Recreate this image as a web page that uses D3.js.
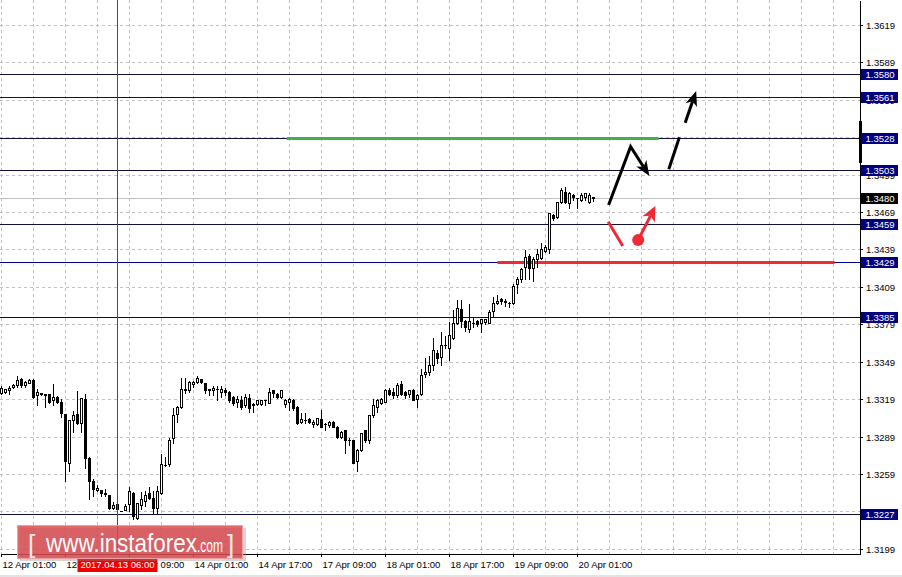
<!DOCTYPE html>
<html><head><meta charset="utf-8">
<script src="https://cdn.jsdelivr.net/npm/d3@7"></script>
<style>
html,body{margin:0;padding:0;background:#fff;overflow:hidden}
svg{display:block}
text{font-family:"Liberation Sans",Arial,sans-serif}
</style></head><body>
<svg id="c" width="902" height="577"></svg>
<script>
// ---------- data ----------
const timeLabels = ["12 Apr 01:00","12 Apr 17:00","13 Apr 09:00","14 Apr 01:00","14 Apr 17:00","17 Apr 09:00","18 Apr 01:00","18 Apr 17:00","19 Apr 09:00","20 Apr 01:00"];
const timeLabelBars = [0,16,32,48,64,80,96,112,128,144];
const priceTickLabels = ["1.3619","1.3589","1.3559","1.3529","1.3499","1.3469","1.3439","1.3409","1.3379","1.3349","1.3319","1.3289","1.3259","1.3229","1.3199"];
const levelValues = [1.3580,1.3561,1.3528,1.3503,1.3459,1.3429,1.3385,1.3227];
const levelLabels = ["1.3580","1.3561","1.3528","1.3503","1.3459","1.3429","1.3385","1.3227"];
const levelColors = ["#10103c","#10103c","#10103c","#10103c","#10103c","#000090","#000090","#10103c"];
const lastPrice = 1.3480;
const cursorBar = 29, cursorLabel = "2017.04.13 06:00";

const open = [1.3324,1.3325,1.3326,1.3329,1.3330,1.3335,1.3330,1.3332,1.3334,1.3322,
1.3323,1.3323,1.3323,1.3318,1.3321,1.3317,1.3307,1.3268,1.3302,1.3307,
1.3300,1.3319,1.3272,1.3253,1.3246,1.3246,1.3244,1.3242,1.3232,1.3235,
1.3229,1.3230,1.3235,1.3244,1.3224,1.3234,1.3237,1.3244,1.3240,1.3232,
1.3244,1.3266,1.3267,1.3288,1.3307,1.3313,1.3327,1.3326,1.3331,1.3333,
1.3335,1.3332,1.3327,1.3326,1.3327,1.3325,1.3326,1.3325,1.3321,1.3317,
1.3318,1.3314,1.3320,1.3315,1.3315,1.3315,1.3318,1.3316,1.3326,1.3323,
1.3321,1.3315,1.3317,1.3318,1.3313,1.3301,1.3302,1.3303,1.3299,1.3299,
1.3303,1.3299,1.3298,1.3301,1.3297,1.3289,1.3294,1.3286,1.3286,1.3269,
1.3278,1.3294,1.3286,1.3306,1.3313,1.3316,1.3317,1.3326,1.3325,1.3322,
1.3331,1.3325,1.3323,1.3326,1.3319,1.3323,1.3339,1.3341,1.3346,1.3356,
1.3353,1.3362,1.3360,1.3368,1.3380,1.3391,1.3382,1.3375,1.3380,1.3382,
1.3380,1.3381,1.3380,1.3390,1.3396,1.3399,1.3397,1.3396,1.3396,1.3411,
1.3415,1.3425,1.3434,1.3424,1.3431,1.3432,1.3438,1.3439,1.3467,1.3465,
1.3477,1.3485,1.3476,1.3483,1.3480,1.3479,1.3481,1.3477,1.3481];
const high = [1.3330,1.3328,1.3330,1.3332,1.3338,1.3337,1.3334,1.3336,1.3336,1.3328,
1.3325,1.3324,1.3324,1.3332,1.3322,1.3320,1.3308,1.3303,1.3310,1.3326,
1.3321,1.3324,1.3273,1.3256,1.3251,1.3247,1.3248,1.3243,1.3237,1.3236,
1.3230,1.3236,1.3249,1.3245,1.3236,1.3245,1.3246,1.3249,1.3246,1.3250,
1.3276,1.3273,1.3289,1.3313,1.3314,1.3337,1.3337,1.3334,1.3334,1.3338,
1.3336,1.3333,1.3327,1.3330,1.3330,1.3330,1.3329,1.3326,1.3322,1.3322,
1.3322,1.3324,1.3324,1.3317,1.3319,1.3319,1.3319,1.3329,1.3326,1.3325,
1.3326,1.3320,1.3321,1.3320,1.3314,1.3309,1.3309,1.3305,1.3303,1.3305,
1.3311,1.3301,1.3302,1.3302,1.3298,1.3294,1.3295,1.3289,1.3287,1.3280,
1.3293,1.3295,1.3307,1.3320,1.3320,1.3321,1.3328,1.3329,1.3329,1.3333,
1.3334,1.3326,1.3326,1.3328,1.3324,1.3344,1.3353,1.3354,1.3369,1.3359,
1.3374,1.3370,1.3382,1.3391,1.3399,1.3399,1.3383,1.3396,1.3386,1.3383,
1.3384,1.3384,1.3391,1.3402,1.3403,1.3401,1.3400,1.3398,1.3412,1.3418,
1.3425,1.3439,1.3436,1.3434,1.3440,1.3445,1.3443,1.3469,1.3468,1.3477,
1.3489,1.3490,1.3486,1.3484,1.3481,1.3485,1.3485,1.3485,1.3482];
const low = [1.3323,1.3324,1.3323,1.3328,1.3329,1.3329,1.3329,1.3332,1.3320,1.3314,
1.3322,1.3313,1.3316,1.3314,1.3316,1.3305,1.3253,1.3261,1.3293,1.3299,
1.3293,1.3264,1.3239,1.3241,1.3245,1.3241,1.3241,1.3231,1.3231,1.3230,
1.3229,1.3230,1.3229,1.3223,1.3223,1.3231,1.3233,1.3239,1.3228,1.3227,
1.3243,1.3265,1.3265,1.3284,1.3301,1.3312,1.3324,1.3325,1.3329,1.3332,
1.3332,1.3324,1.3322,1.3322,1.3318,1.3321,1.3322,1.3317,1.3314,1.3313,
1.3311,1.3313,1.3309,1.3309,1.3314,1.3314,1.3314,1.3316,1.3321,1.3320,
1.3320,1.3313,1.3310,1.3310,1.3299,1.3300,1.3300,1.3300,1.3297,1.3298,
1.3297,1.3294,1.3297,1.3297,1.3288,1.3288,1.3276,1.3282,1.3268,1.3261,
1.3277,1.3285,1.3284,1.3305,1.3309,1.3315,1.3317,1.3322,1.3320,1.3321,
1.3322,1.3320,1.3321,1.3318,1.3313,1.3322,1.3337,1.3338,1.3342,1.3348,
1.3346,1.3360,1.3350,1.3367,1.3379,1.3377,1.3374,1.3373,1.3377,1.3378,
1.3373,1.3379,1.3380,1.3386,1.3395,1.3395,1.3394,1.3393,1.3395,1.3404,
1.3413,1.3415,1.3415,1.3414,1.3425,1.3431,1.3437,1.3436,1.3463,1.3464,
1.3476,1.3476,1.3472,1.3479,1.3472,1.3478,1.3479,1.3476,1.3478];
const close = [1.3328,1.3327,1.3328,1.3330,1.3334,1.3330,1.3333,1.3334,1.3321,1.3325,
1.3324,1.3322,1.3317,1.3321,1.3317,1.3308,1.3269,1.3302,1.3306,1.3300,
1.3320,1.3272,1.3253,1.3247,1.3248,1.3244,1.3243,1.3232,1.3234,1.3231,
1.3229,1.3233,1.3245,1.3225,1.3236,1.3239,1.3242,1.3240,1.3232,1.3245,
1.3267,1.3266,1.3286,1.3306,1.3313,1.3327,1.3326,1.3333,1.3333,1.3336,
1.3333,1.3326,1.3326,1.3328,1.3327,1.3327,1.3325,1.3318,1.3316,1.3319,
1.3313,1.3321,1.3312,1.3314,1.3318,1.3318,1.3318,1.3325,1.3324,1.3321,
1.3326,1.3318,1.3319,1.3312,1.3300,1.3303,1.3302,1.3301,1.3301,1.3304,
1.3297,1.3299,1.3301,1.3297,1.3289,1.3293,1.3286,1.3286,1.3268,1.3278,
1.3292,1.3286,1.3306,1.3314,1.3318,1.3319,1.3326,1.3323,1.3322,1.3330,
1.3323,1.3322,1.3326,1.3318,1.3322,1.3338,1.3341,1.3346,1.3358,1.3352,
1.3362,1.3362,1.3370,1.3380,1.3392,1.3382,1.3377,1.3382,1.3380,1.3379,
1.3383,1.3383,1.3389,1.3396,1.3398,1.3398,1.3398,1.3396,1.3410,1.3415,
1.3423,1.3433,1.3424,1.3431,1.3435,1.3439,1.3441,1.3468,1.3464,1.3477,
1.3487,1.3477,1.3484,1.3481,1.3480,1.3483,1.3484,1.3483,1.3480];

// annotation objects (bar index, price)
const greenLine = {from:71.4, to:164.4, price:1.3528};
const redLine = {from:124.1, to:208.4, price:1.3429};
const blackZig = [[151.9,1.34746],[157.4,1.35214],[162.1,1.34979]];
const blackSeg = [[166.95,1.35033],[169.6,1.35289]];
const blackArrow = [[171.05,1.35406],[173.8,1.35661]];
const redSeg = [[151.8,1.34612],[155.45,1.34418]];
const redArrow = [[159.3,1.34466],[163.6,1.34738]];

// ---------- scales ----------
const PW = 860, PH = 554;
const x = d3.scaleLinear().domain([-0.25, 214.75]).range([0, PW]).interpolate(d3.interpolateRound);
const y = d3.scaleLinear().domain([1.31948, 1.36390]).range([PH, 0]).interpolate(d3.interpolateRound);
const fx = d3.scaleLinear().domain([-0.25, 214.75]).range([0, PW]);
const fy = d3.scaleLinear().domain([1.31948, 1.36390]).range([PH, 0]);

const svg = d3.select("#c");
svg.append("rect").attr("width",902).attr("height",577).attr("fill","#fff");

// grid
const grid = svg.append("g").attr("shape-rendering","crispEdges").attr("stroke","#c0c0c0").attr("stroke-dasharray","3,3");
priceTickLabels.forEach(t=>{
  grid.append("line").attr("x1",0).attr("x2",PW).attr("y1",y(+t)+0.5).attr("y2",y(+t)+0.5);
});
d3.range(0, 215, 8).forEach(b=>{
  grid.append("line").attr("x1",x(b)+0.5).attr("x2",x(b)+0.5).attr("y1",0).attr("y2",PH);
});

// last price line
svg.append("line").attr("x1",0).attr("x2",PW).attr("y1",y(lastPrice)+0.5).attr("y2",y(lastPrice)+0.5)
  .attr("stroke","#c0c0c0").attr("shape-rendering","crispEdges");

// level lines
const lv = svg.append("g").attr("shape-rendering","crispEdges");
levelValues.forEach((v,i)=>{
  lv.append("line").attr("x1",0).attr("x2",PW).attr("y1",y(v)+0.5).attr("y2",y(v)+0.5).attr("stroke",levelColors[i]);
});

// green / red horizontal marker lines
svg.append("line").attr("x1",fx(greenLine.from)).attr("x2",fx(greenLine.to))
  .attr("y1",y(greenLine.price)+0.5).attr("y2",y(greenLine.price)+0.5)
  .attr("stroke","#3cb44b").attr("stroke-width",3);
svg.append("line").attr("x1",fx(redLine.from)).attr("x2",fx(redLine.to))
  .attr("y1",y(redLine.price)+0.5).attr("y2",y(redLine.price)+0.5)
  .attr("stroke","#ee2a35").attr("stroke-width",3);

// candles
const cg = svg.append("g").attr("shape-rendering","crispEdges");
open.forEach((o,i)=>{
  const h=high[i], l=low[i], c=close[i];
  const cx = x(i)+0.5;
  cg.append("line").attr("x1",cx).attr("x2",cx).attr("y1",y(h)+0.5).attr("y2",y(l)+0.5).attr("stroke","#000");
  const top = y(Math.max(o,c))+0.5, bot = y(Math.min(o,c))+0.5;
  if (bot-top < 1) {
    cg.append("line").attr("x1",cx-1.5).attr("x2",cx+1.5).attr("y1",top).attr("y2",top).attr("stroke","#000");
  } else {
    cg.append("rect").attr("x",cx-1).attr("width",2).attr("y",top).attr("height",bot-top)
      .attr("fill", c>=o ? "#fff" : "#000").attr("stroke","#000");
  }
});

// arrows
function P(p){return [fx(p[0]), fy(p[1])];}
function head(a,b,len,hw,notch){
  const dx=b[0]-a[0], dy=b[1]-a[1], L=Math.hypot(dx,dy), ux=dx/L, uy=dy/L, nx=-uy, ny=ux;
  const bx=b[0]-len*ux, by=b[1]-len*uy;
  const n=[bx+notch*ux, by+notch*uy];
  return {poly:[[b[0],b[1]],[bx+hw*nx,by+hw*ny],n,[bx-hw*nx,by-hw*ny]], stop:n};
}
const line = d3.line();
{
  const pts = blackZig.map(P);
  const hd = head(pts[1],pts[2],15,6,4);
  svg.append("path").attr("d",line([pts[0],pts[1],hd.stop])).attr("fill","none").attr("stroke","#000").attr("stroke-width",3).attr("stroke-linejoin","miter");
  svg.append("path").attr("d",line(hd.poly)+"Z").attr("fill","#000");
}
svg.append("path").attr("d",line(blackSeg.map(P))).attr("stroke","#000").attr("stroke-width",3).attr("fill","none");
{
  const pts = blackArrow.map(P);
  const hd = head(pts[0],pts[1],15,6,4);
  svg.append("path").attr("d",line([pts[0],hd.stop])).attr("stroke","#000").attr("stroke-width",3).attr("fill","none");
  svg.append("path").attr("d",line(hd.poly)+"Z").attr("fill","#000");
}
svg.append("path").attr("d",line(redSeg.map(P))).attr("stroke","#ee2a35").attr("stroke-width",3).attr("fill","none");
{
  const pts = redArrow.map(P);
  const hd = head(pts[0],pts[1],15,7,4);
  svg.append("path").attr("d",line([pts[0],hd.stop])).attr("stroke","#ee2a35").attr("stroke-width",3).attr("fill","none");
  svg.append("path").attr("d",line(hd.poly)+"Z").attr("fill","#ee2a35");
  svg.append("circle").attr("cx",pts[0][0]).attr("cy",pts[0][1]).attr("r",6).attr("fill","#ee2a35");
}

// cursor line
svg.append("line").attr("x1",x(cursorBar)+0.5).attr("x2",x(cursorBar)+0.5).attr("y1",0).attr("y2",PH)
  .attr("stroke","#ff0000").attr("shape-rendering","crispEdges");

// axes
const FS = "9.5px";
const ax = svg.append("g").attr("transform",`translate(${PW},0)`)
  .call(d3.axisRight(y).tickValues(priceTickLabels.map(Number)).tickFormat((d,i)=>priceTickLabels[i]).tickSize(3).tickSizeOuter(0).tickPadding(3));
ax.selectAll("text").attr("font-size",FS).attr("fill","#000").attr("font-family","Liberation Sans, Arial, sans-serif");
ax.selectAll("line,path").attr("stroke","#000").attr("shape-rendering","crispEdges");

const bx = svg.append("g").attr("transform",`translate(0,${PH})`)
  .call(d3.axisBottom(x).tickValues(timeLabelBars).tickFormat((d,i)=>timeLabels[i]).tickSize(3).tickSizeOuter(0).tickPadding(4));
bx.selectAll("text").attr("font-size",FS).attr("fill","#000").attr("text-anchor","start").attr("x",1).attr("font-family","Liberation Sans, Arial, sans-serif");
bx.selectAll("line,path").attr("stroke","#000").attr("shape-rendering","crispEdges");

// axis marker bar
svg.append("rect").attr("x",859).attr("y",121).attr("width",3).attr("height",42).attr("fill","#000");

// level labels
function priceBox(v,label,fill){
  const yy = y(v)+0.5;
  svg.append("rect").attr("x",861).attr("y",yy-5.5).attr("width",37).attr("height",11).attr("fill",fill);
  svg.append("text").attr("x",865.5).attr("y",yy).attr("dy","0.34em").attr("font-size",FS).attr("fill","#fff").text(label);
}
levelValues.forEach((v,i)=>priceBox(v,levelLabels[i],"#000080"));
priceBox(lastPrice, lastPrice.toFixed(4), "#000");

// cursor date label
{
  const cx = x(cursorBar)+0.5;
  svg.append("rect").attr("x",cx-40).attr("y",559).attr("width",80).attr("height",13).attr("fill","#f00000");
  svg.append("text").attr("x",cx).attr("y",568).attr("text-anchor","middle").attr("font-size",FS).attr("fill","#fff").text(cursorLabel);
}

// watermark
{
  const g = svg.append("g");
  g.append("rect").attr("x",20).attr("y",528).attr("width",226).attr("height",33).attr("fill","#888").attr("opacity",0.35);
  g.append("rect").attr("x",17.5).attr("y",525.5).attr("width",225).attr("height",33).attr("fill","#d9464c").attr("fill-opacity",0.82).attr("stroke","#eea0a3").attr("stroke-width",1);
  const f = "Open Sans, Liberation Sans, sans-serif";
  g.append("text").attr("x",28).attr("y",553).attr("font-family",f).attr("font-size","26px").attr("font-weight",300).attr("fill","#fbe9ea").text("[");
  g.append("text").attr("x",46).attr("y",552).attr("font-family",f).attr("font-size","26px").attr("fill","#fff")
    .attr("textLength",151).attr("lengthAdjust","spacingAndGlyphs").text("www.instaforex");
  g.append("text").attr("x",197).attr("y",552).attr("font-family",f).attr("font-size","18px").attr("fill","#fff")
    .attr("textLength",26).attr("lengthAdjust","spacingAndGlyphs").text(".com");
  g.append("text").attr("x",227).attr("y",553).attr("font-family",f).attr("font-size","26px").attr("font-weight",300).attr("fill","#fbe9ea").text("]");
}
// window edge
svg.append("rect").attr("x",0).attr("y",575).attr("width",902).attr("height",2).attr("fill","#e3e3e3");
</script>
</body></html>
